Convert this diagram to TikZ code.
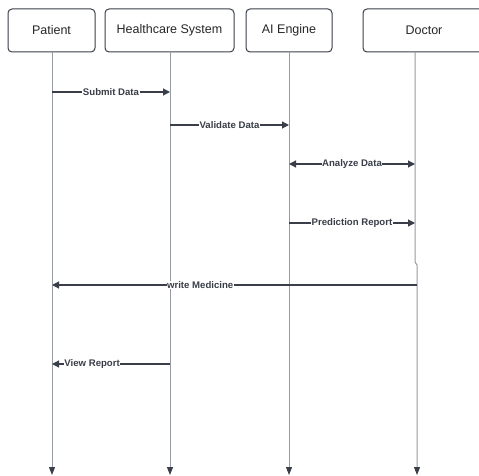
\documentclass[tikz,border=0pt]{standalone}
\usepackage{fontspec}
\setmainfont{Liberation Sans}
\usetikzlibrary{arrows.meta,positioning}
\definecolor{ink}{RGB}{58,62,72}
\definecolor{lifegray}{RGB}{150,154,162}
\tikzset{
  actor/.style={draw=ink,rounded corners=4pt,line width=1pt,minimum height=43pt,inner sep=0pt,font=\fontsize{12.5}{14}\selectfont,text=black!85},
  lifeline/.style={draw=lifegray,line width=1pt,-{Triangle[length=8pt,width=6pt,color=ink]}},
  msg/.style={draw=ink,line width=1.2pt,-{Triangle[length=7pt,width=7pt]}},
  lbl/.style={font=\fontsize{9.6}{10}\selectfont\bfseries,fill=white,inner sep=0.5pt,text=ink}
}
\begin{document}
\begin{tikzpicture}[x=1pt,y=-1pt]
\useasboundingbox (0,0) rectangle (479,476);
% actors
\node[actor,minimum width=87pt] (pat) at (51.5,30.5) {Patient};
\node[actor,minimum width=129pt] (hcs) at (169.5,30.5) {Healthcare System};
\node[actor,minimum width=86pt] (ai) at (289,30.5) {AI Engine};
\node[actor,minimum width=122pt] (doc) at (424,30.5) {Doctor};
% lifelines
\coordinate (lpat) at (52,52);
\coordinate (lhcs) at (170,52);
\coordinate (lai) at (289,52);
\coordinate (ldoc) at (415,52);
\coordinate (ldocb) at (417,265);
\draw[lifeline] (lpat) -- (lpat |- 0,475);
\draw[lifeline] (lhcs) -- (lhcs |- 0,475);
\draw[lifeline] (lai) -- (lai |- 0,475);
\draw[lifeline] (ldoc) -- (ldoc |- 0,262) -- (ldocb) -- (ldocb |- 0,475);
% messages
\draw[msg] (lpat |- 0,92) -- node[lbl] {Submit Data} (lhcs |- 0,92);
\draw[msg] (lhcs |- 0,125) -- node[lbl] {Validate Data} (lai |- 0,125);
\draw[msg,{Triangle[length=7pt,width=7pt]}-{Triangle[length=7pt,width=7pt]}] (lai |- 0,164) -- node[lbl] {Analyze Data} (ldoc |- 0,164);
\draw[msg] (lai |- 0,223) -- node[lbl] {Prediction Report} (ldoc |- 0,223);
\draw[msg] (ldocb |- 0,285) -- node[lbl,pos=0.594] {write Medicine} (lpat |- 0,285);
\draw[msg] (lhcs |- 0,364) -- node[lbl,pos=0.66] {View Report} (lpat |- 0,364);
\end{tikzpicture}
\end{document}
